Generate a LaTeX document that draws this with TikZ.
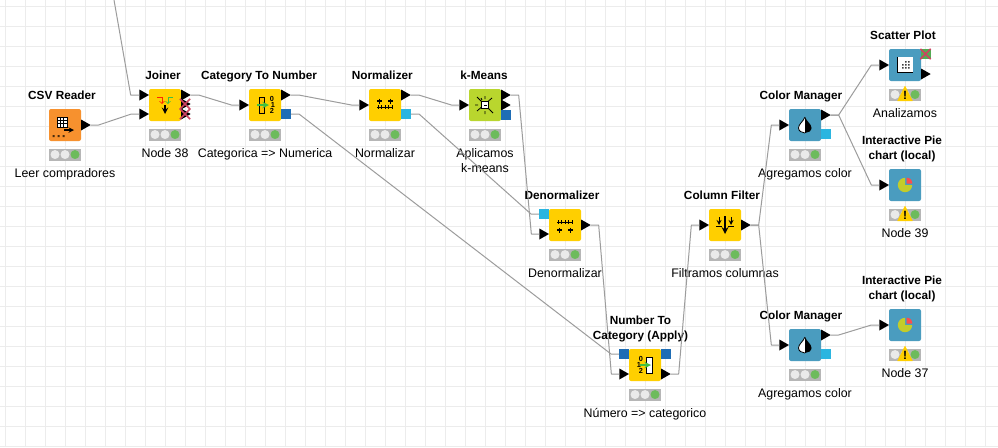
\documentclass[tikz,border=0pt]{standalone}
\usepackage{fontspec}
\setmainfont{Liberation Sans}
\usetikzlibrary{positioning}
\usetikzlibrary{shapes.geometric}
\usetikzlibrary{shapes.misc}
\usetikzlibrary{arrows}
\definecolor{gridC}{HTML}{ECECEC}
\definecolor{wireC}{HTML}{9C9C9C}
\definecolor{manC}{HTML}{FFCF00}
\definecolor{srcC}{HTML}{F7912E}
\definecolor{minC}{HTML}{B9D62E}
\definecolor{vizC}{HTML}{4A9CBF}
\definecolor{mdlC}{HTML}{1F6DB5}
\definecolor{nrmC}{HTML}{2BB5E0}
\definecolor{barC}{HTML}{B6B6B6}
\definecolor{offC}{HTML}{EAEAEA}
\definecolor{onC}{HTML}{6DBB5C}
\definecolor{badC}{HTML}{CC4460}
\definecolor{pieC}{HTML}{C3CC2A}
\tikzstyle{nbx}=[shape=rectangle,rounded corners=1.5pt,minimum size=24pt,inner sep=0pt]
\tikzstyle{ptri}=[shape=isosceles triangle,isosceles triangle stretches,shape border rotate=0,fill=black,minimum width=8.25pt,minimum height=7.25pt,inner sep=0pt,outer sep=0pt]
\tikzstyle{psq}=[shape=rectangle,minimum size=7.5pt,inner sep=0pt,outer sep=0pt]
\tikzstyle{pbad}=[shape=cross out,draw=badC,line width=1.2pt,minimum size=6.5pt,inner sep=0pt]
\tikzstyle{sbar}=[shape=rectangle,fill=barC,minimum width=24pt,minimum height=9pt,inner sep=0pt]
\tikzstyle{lmp}=[shape=circle,fill=offC,minimum size=6.75pt,inner sep=0pt]
\tikzstyle{wrn}=[shape=isosceles triangle,isosceles triangle stretches,shape border rotate=90,fill=manC,draw=manC,line join=round,minimum width=11pt,minimum height=11pt,inner sep=0pt,anchor=south]
\tikzstyle{ttl}=[font=\fontsize{8.85}{11.25}\bfseries\selectfont,align=center,inner sep=0pt,text depth=2pt]
\tikzstyle{lbl}=[font=\fontsize{9.3}{11.25}\selectfont,align=center,inner sep=0pt,text height=6.5pt]
\tikzstyle{dig}=[font=\fontsize{5.5}{5.5}\bfseries\selectfont,inner sep=0pt]
\tikzstyle{marrow}=[draw=wireC,line width=0.75pt,line join=round,to path={-- ++(8,0) -- ([xshift=-6pt]\tikztotarget) -- (\tikztotarget)}]
\def\nbx{\node[style=nbx]}
\def\ptri{\node[style=ptri]}
\def\psq{\node[style=psq]}
\def\pbad{\node[style=pbad]}
\def\ttl{\node[style=ttl]}
\def\lbl{\node[style=lbl]}
\def\dig{\node[style=dig]}
\def\marrow{\draw[style=marrow]}
% status lights under a box
\newcommand{\mstat}[1]{
  \node[style=sbar,below=5.25pt of #1] (#1bar) {};
  \node[style=lmp] (#1a) at ([xshift=-7.5pt]#1bar.center) {};
  \node[style=lmp] (#1b) at (#1bar.center) {};
  \node[style=lmp,fill=onC] (#1c) at ([xshift=7.5pt]#1bar.center) {};
}
\newcommand{\mwarn}[1]{
  \node[style=wrn] (#1w) at ([yshift=-5pt]#1bar.center) {};
  \node[font=\fontsize{9}{9}\bfseries\selectfont,inner sep=0pt] (#1x) at ([yshift=-0.8pt]#1bar.center) {!};
}
\newcommand{\mdrop}[1]{
  \begin{scope}[shift={(#1.center)}]
    \fill[white] (0,-8) .. controls (-2,-3) and (-6.5,-1) .. (-6.5,3) .. controls (-6.5,6) and (-3,8) .. (0,8) -- cycle;
    \fill[black] (0,-8) .. controls (2,-3) and (6.5,-1) .. (6.5,3) .. controls (6.5,6) and (3,8) .. (0,8) -- cycle;
    \draw[line width=0.6pt] (0,-8) .. controls (-2,-3) and (-6.5,-1) .. (-6.5,3) .. controls (-6.5,6) and (-3,8) .. (0,8);
  \end{scope}
}
\newcommand{\mpie}[1]{
  \begin{scope}[shift={(#1.center)}]
    \fill[pieC] (0,0) -- ++(90:5.4pt) arc[start angle=90,delta angle=270,radius=5.4pt] -- cycle;
    \fill[red!70!white] (1.5,-1.5) -- ++(90:4.4pt) arc[start angle=90,delta angle=-90,radius=4.4pt] -- cycle;
  \end{scope}
}
\begin{document}
\begin{tikzpicture}[x=0.75pt,y=-0.75pt]
      \useasboundingbox (0,0) rectangle (998,447);
      \fill[white] (0,0) rectangle (998,447);
      \draw[gridC,line width=0.75pt,shift={(5,6)},step=15pt] (-5,-6) grid (993,441);
      % boxes
      \nbx[fill=srcC] (CSV)    at (65,125)  {};
      \nbx[fill=manC] (Join)   at (165,105) {};
      \nbx[fill=manC] (Cnum)   at (265,105) {};
      \nbx[fill=manC] (Norm)   at (385,105) {};
      \nbx[fill=minC] (Kmean)  at (485,105) {};
      \nbx[fill=manC] (Denorm) at (565,225) {};
      \nbx[fill=manC] (Ncat)   at (645,365) {};
      \nbx[fill=manC] (Cfilt)  at (725,225) {};
      \nbx[fill=vizC] (Cman1)  at (805,125) {};
      \nbx[fill=vizC] (Cman2)  at (805,345) {};
      \nbx[fill=vizC] (Scat)   at (905,65)  {};
      \nbx[fill=vizC] (Pie1)   at (905,185) {};
      \nbx[fill=vizC] (Pie2)   at (905,325) {};
      % lights
      \mstat{CSV} \mstat{Join} \mstat{Cnum} \mstat{Norm} \mstat{Kmean} \mstat{Denorm} \mstat{Ncat}
      \mstat{Cfilt} \mstat{Cman1} \mstat{Cman2} \mstat{Scat} \mstat{Pie1} \mstat{Pie2}
      \mwarn{Scat} \mwarn{Pie1} \mwarn{Pie2}
      % titles
      \ttl (CSVt)    [above=4.75pt of CSV,xshift=-2.25pt]    {CSV Reader};
      \ttl (Joint)   [above=4.75pt of Join,xshift=-1.5pt]    {Joiner};
      \ttl (Cnumt)   [above=4.75pt of Cnum,xshift=-4.5pt]    {Category To Number};
      \ttl (Normt)   [above=4.75pt of Norm,xshift=-2pt]      {Normalizer};
      \ttl (Kmeant)  [above=4.75pt of Kmean,xshift=-0.75pt]  {k-Means};
      \ttl (Denormt) [above=4.75pt of Denorm,xshift=-2.25pt] {Denormalizer};
      \ttl (Ncatt)   [above=4.75pt of Ncat,xshift=-3.4pt]    {Number To\\Category (Apply)};
      \ttl (Cfiltt)  [above=4.75pt of Cfilt,xshift=-2.25pt]  {Column Filter};
      \ttl (Cman1t)  [above=4.75pt of Cman1,xshift=-3pt]     {Color Manager};
      \ttl (Cman2t)  [above=4.75pt of Cman2,xshift=-3pt]     {Color Manager};
      \ttl (Scatt)   [above=4.75pt of Scat,xshift=-1.5pt]    {Scatter Plot};
      \ttl (Pie1t)   [above=4.75pt of Pie1,xshift=-2.25pt]   {Interactive Pie\\chart (local)};
      \ttl (Pie2t)   [above=4.75pt of Pie2,xshift=-2.25pt]   {Interactive Pie\\chart (local)};
      % captions
      \lbl (CSVc)    [below=6pt of CSVbar]    {Leer compradores};
      \lbl (Joinc)   [below=6pt of Joinbar]   {Node 38};
      \lbl (Cnumc)   [below=6pt of Cnumbar]   {Categorica => Numerica};
      \lbl (Normc)   [below=6pt of Normbar]   {Normalizar};
      \lbl (Kmeanc)  [below=6pt of Kmeanbar,text height=17.75pt] {Aplicamos\\k-means};
      \lbl (Denormc) [below=6pt of Denormbar] {Denormalizar};
      \lbl (Ncatc)   [below=6pt of Ncatbar]   {Número => categorico};
      \lbl (Cfiltc)  [below=6pt of Cfiltbar]  {Filtramos columnas};
      \lbl (Cman1c)  [below=6pt of Cman1bar]  {Agregamos color};
      \lbl (Cman2c)  [below=6pt of Cman2bar]  {Agregamos color};
      \lbl (Scatc)   [below=6pt of Scatbar]   {Analizamos};
      \lbl (Pie1c)   [below=6pt of Pie1bar]   {Node 39};
      \lbl (Pie2c)   [below=6pt of Pie2bar]   {Node 37};
      % ports
      \ptri[anchor=west] (CSVo)    at (81,125)  {};
      \ptri[anchor=east] (Joini1)  at (149,95)  {};
      \ptri[anchor=east] (Joini2)  at (149,114) {};
      \ptri[anchor=west] (Joino1)  at (181,95)  {};
      \ptri[anchor=west] (Joino2)  at (181,104) {};
      \ptri[anchor=west] (Joino3)  at (181,114) {};
      \pbad (Joinx2) at (185,104) {};
      \pbad (Joinx3) at (185,114) {};
      \ptri[anchor=east] (Cnumi)   at (249,105) {};
      \ptri[anchor=west] (Cnumo)   at (281,95)  {};
      \psq[fill=mdlC,anchor=west] (Cnumm) at (281,114) {};
      \ptri[anchor=east] (Normi)   at (369,105) {};
      \ptri[anchor=west] (Normo)   at (401,95)  {};
      \psq[fill=nrmC,anchor=west] (Normm) at (401,114) {};
      \ptri[anchor=east] (Kmeani)  at (469,105) {};
      \ptri[anchor=west] (Kmeano1) at (501,95)  {};
      \ptri[anchor=west] (Kmeano2) at (501,105) {};
      \psq[fill=mdlC,anchor=west] (Kmeanm) at (501,115) {};
      \psq[fill=nrmC,anchor=east] (Denormm) at (549,214) {};
      \ptri[anchor=east] (Denormi) at (549,234) {};
      \ptri[anchor=west] (Denormo) at (581,225) {};
      \psq[fill=mdlC,anchor=east] (Ncatm) at (629,354) {};
      \ptri[anchor=east] (Ncati)   at (629,374) {};
      \psq[fill=mdlC,anchor=west] (Ncatp) at (661,354) {};
      \ptri[anchor=west] (Ncato)   at (661,374) {};
      \ptri[anchor=east] (Cfilti)  at (709,225) {};
      \ptri[anchor=west] (Cfilto)  at (741,225) {};
      \ptri[anchor=east] (Cman1i)  at (789,125) {};
      \ptri[anchor=west] (Cman1o)  at (821,115) {};
      \psq[fill=nrmC,anchor=west] (Cman1m) at (821,134) {};
      \ptri[anchor=east] (Cman2i)  at (789,345) {};
      \ptri[anchor=west] (Cman2o)  at (821,335) {};
      \psq[fill=nrmC,anchor=west] (Cman2m) at (821,354) {};
      \ptri[anchor=east] (Scati)   at (889,65)  {};
      \ptri[anchor=west] (Scato)   at (921,74)  {};
      \psq[fill=green!35!gray,anchor=west] (Scatm) at (921,54) {};
      \pbad (Scatx2) at (925.5,54) {};
      \ptri[anchor=east] (Pie1i)   at (889,185) {};
      \ptri[anchor=east] (Pie2i)   at (889,325) {};
      % connections
      \coordinate (Topend) at (114,0);
      \draw[style=marrow] (Topend) -- ([xshift=-6.5pt]Joini1.west) -- (Joini1.west);
      \marrow (CSVo.east)    to (Joini2.west);
      \marrow (Joino1.east)  to (Cnumi.west);
      \marrow (Cnumo.east)   to (Normi.west);
      \marrow (Cnumm.east)   to (Ncatm.west);
      \marrow (Normo.east)   to (Kmeani.west);
      \marrow (Normm.east)   to (Denormm.west);
      \marrow (Kmeano1.east) to (Denormi.west);
      \marrow (Denormo.east) to (Ncati.west);
      \marrow (Ncato.east)   to (Cfilti.west);
      \marrow (Cfilto.east)  to (Cman1i.west);
      \marrow (Cfilto.east)  to (Cman2i.west);
      \marrow (Cman1o.east)  to (Scati.west);
      \marrow (Cman1o.east)  to (Pie1i.west);
      \marrow (Cman2o.east)  to (Pie2i.west);
      % icons
      \begin{scope}[shift={(CSV.center)}]
        \draw[fill=white,line width=0.45pt,step=2.5pt,shift={(-8,-8)}] (0,0) grid (10,10) (0,0) rectangle (10,10);
        \draw[line width=0.8pt,-stealth] (-1,5) -- (9,5);
        \fill[black!70!srcC] (-12.5,10) rectangle (-10.5,12) (-7.5,10) rectangle (-5.5,12) (-2.5,10) rectangle (-0.5,12);
      \end{scope}
      \begin{scope}[shift={(Join.center)}]
        \draw[red!70!orange,line width=0.6pt,->,>=to] (-8,-8) -- (-3,-8) -- (-3,-1);
        \draw[green!50!gray,line width=0.6pt,->,>=to] (8,-8) -- (3,-8) -- (3,-1);
        \draw[line width=1.1pt,-stealth] (0,0) -- (0,9);
      \end{scope}
      \begin{scope}[shift={(Cnum.center)}]
        \draw[fill=manC!80!orange,line width=0.6pt] (-6,-8) rectangle (-1,8);
        \draw[green!50!gray,line width=1.2pt,-stealth] (-8,0) -- (4,0);
        \dig (Cnumd0) at (7,-6) {0};
        \dig (Cnumd1) at (8,0)  {1};
        \dig (Cnumd2) at (7,6)  {2};
      \end{scope}
      \begin{scope}[shift={(Norm.center)}]
        \draw[line width=0.6pt] (-8,2) -- (8,2) (-7,0) -- (-7,4) (-3.5,0) -- (-3.5,4) (0,0) -- (0,4) (3.5,0) -- (3.5,4) (7,0) -- (7,4);
        \draw[line width=0.8pt] (-8,-4) -- (-3,-4) (-5.5,-6.5) -- (-5.5,-1.5) (3,-4) -- (8,-4) (5.5,-6.5) -- (5.5,-1.5);
      \end{scope}
      \begin{scope}[shift={(Kmean.center)}]
        \draw[line width=0.6pt] (-8,-8) -- (8,8) (-8,6) -- (7,-7) (-10,0) -- (-7,0) (0,-9) -- (0,-6) (0,6) -- (0,9) (-4,-7) -- (-3,-5);
        \draw[fill=white,line width=0.8pt] (-3.5,-3.5) rectangle (3.5,3.5);
        \draw[line width=0.8pt] (-1,0.5) -- (2,0.5);
      \end{scope}
      \begin{scope}[shift={(Denorm.center)}]
        \draw[line width=0.6pt] (-8,-3) -- (8,-3) (-7,-5) -- (-7,-1) (-3.5,-5) -- (-3.5,-1) (0,-5) -- (0,-1) (3.5,-5) -- (3.5,-1) (7,-5) -- (7,-1);
        \draw[line width=0.8pt] (-8,5) -- (-3,5) (-5.5,2.5) -- (-5.5,7.5) (3,5) -- (8,5) (5.5,2.5) -- (5.5,7.5);
      \end{scope}
      \begin{scope}[shift={(Ncat.center)}]
        \draw[fill=white,line width=0.6pt] (1,-8) rectangle (7,8);
        \dig (Ncatd0) at (-4,-6) {0};
        \dig (Ncatd1) at (-6,0)  {1};
        \dig (Ncatd2) at (-4,6)  {2};
        \draw[green!50!gray,line width=1.2pt,-stealth] (-5,0) -- (6,0);
      \end{scope}
      \begin{scope}[shift={(Cfilt.center)}]
        \draw[line width=1.3pt,-stealth] (0,-9) -- (0,9);
        \draw[line width=0.7pt,-stealth] (-6,-8) -- (-6,0);
        \draw[line width=0.7pt,-stealth] (6,-8) -- (6,0);
        \draw[line width=0.7pt] (-9,1) -- (-3,1) (3,1) -- (9,1);
      \end{scope}
      \mdrop{Cman1}
      \mdrop{Cman2}
      \begin{scope}[shift={(Scat.center)}]
        \fill[white] (-8,-8) rectangle (8,8);
        \draw[line width=0.7pt] (-8,-8) -- (-8,7) -- (8,7);
        \fill[black!75] (3,-4) rectangle (4.5,-2.5) (0,-1) rectangle (1.5,0.5) (3,-1) rectangle (4.5,0.5) (-3,2) rectangle (-1.5,3.5) (0,2) rectangle (1.5,3.5) (3,2) rectangle (4.5,3.5) (0,-4) rectangle (1.5,-2.5) (-3,-1) rectangle (-1.5,0.5);
      \end{scope}
      \mpie{Pie1}
      \mpie{Pie2}
\end{tikzpicture}
\end{document}
